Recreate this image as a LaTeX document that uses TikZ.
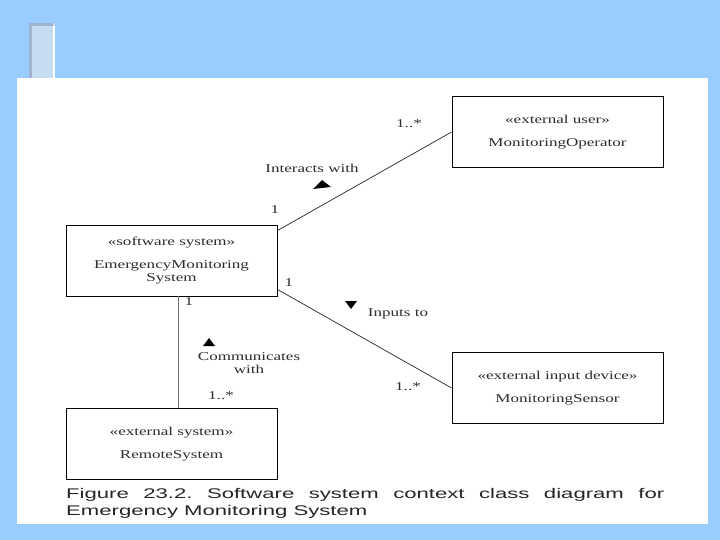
\documentclass[tikz,border=0pt]{standalone}
\usepackage{fontspec}
\usepackage{graphicx}
\setmainfont{Liberation Serif}
\newfontfamily\capfont{Liberation Sans}
\frenchspacing
\newcommand{\hstr}[1]{\scalebox{1.42}[1]{#1}}
\definecolor{slideblue}{RGB}{153,204,255}
\definecolor{tabfill}{RGB}{198,220,240}
\definecolor{tabedge}{RGB}{160,180,208}
\definecolor{txt}{RGB}{45,45,45}
\tikzset{
  umlbox/.style={draw=black, line width=0.9pt, minimum width=211pt, minimum height=71pt,
    inner sep=0pt, align=center, text=txt, font=\fontsize{12}{13}\selectfont},
  lab/.style={inner sep=0pt, text=txt, font=\fontsize{12}{13}\selectfont, align=center},
  assoc/.style={line width=0.7pt, draw=black!85},
  caption/.style={inner sep=0pt, anchor=base west, text=black!85, font=\capfont\fontsize{14}{16}\selectfont}
}
\begin{document}
\begin{tikzpicture}[x=1pt,y=-1pt]
\useasboundingbox (0,0) rectangle (720,540);
% slide background
\fill[slideblue] (0,0) rectangle (720,540);
\fill[white] (17,78) rectangle (708,524);
% small tab
\fill[tabfill] (29,23) rectangle (55,78);
\fill[tabedge] (29,23) rectangle (32,78);
\fill[tabedge] (29,23) rectangle (53,26);
\fill[white] (53,26) rectangle (55,78);

% class boxes
\node[umlbox] (mo) at (557.5,132) {\hstr{«external user»}\\[10pt]\hstr{MonitoringOperator}};
\node[umlbox] (esm) at (171.5,260.5) {\hstr{«software system»}\\[10pt]\hstr{EmergencyMonitoring}\\\hstr{System}};
\node[umlbox] (ms) at (557.5,388) {\hstr{«external input device»}\\[10pt]\hstr{MonitoringSensor}};
\node[umlbox] (rs) at (171.5,444) {\hstr{«external system»}\\[10pt]\hstr{RemoteSystem}};

% associations
\draw[assoc] ([yshift=-6pt]esm.north east) -- (mo.west);
\draw[assoc] ([yshift=7pt]esm.south east) -- (ms.west);
\draw[line width=0.9pt, draw=black!55] ([xshift=6.5pt]esm.south) -- ([xshift=6.5pt]rs.north);

% multiplicities and association names
\node[lab] (m1) at (409,124) {\hstr{1..*}};
\node[lab] (iw) at (312,168) {\hstr{Interacts with}};
\fill[black] (313,189) -- (322,180) -- (331,187) -- cycle;
\node[lab] (m2) at (275,210) {\hstr{1}};
\node[lab] (m3) at (289,283) {\hstr{1}};
\node[lab] (m4) at (189,302) {\hstr{1}};
\fill[black] (345,301) -- (357,301) -- (351,309) -- cycle;
\node[lab] (it) at (398,314) {\hstr{Inputs to}};
\fill[black] (203,346) -- (215,346) -- (209,338) -- cycle;
\node[lab] (cw) at (249,363) {\hstr{Communicates}\\\hstr{with}};
\node[lab] (m5) at (221,396) {\hstr{1..*}};
\node[lab] (m6) at (408,387) {\hstr{1..*}};

% caption
\node[caption] (cap1) at (66,498) {\scalebox{1.58}[1]{\makebox[378.5pt][s]{Figure 23.2. Software system context class diagram for}}};
\node[caption] (cap2) at (66,515) {\scalebox{1.58}[1]{Emergency Monitoring System}};
\end{tikzpicture}
\end{document}
